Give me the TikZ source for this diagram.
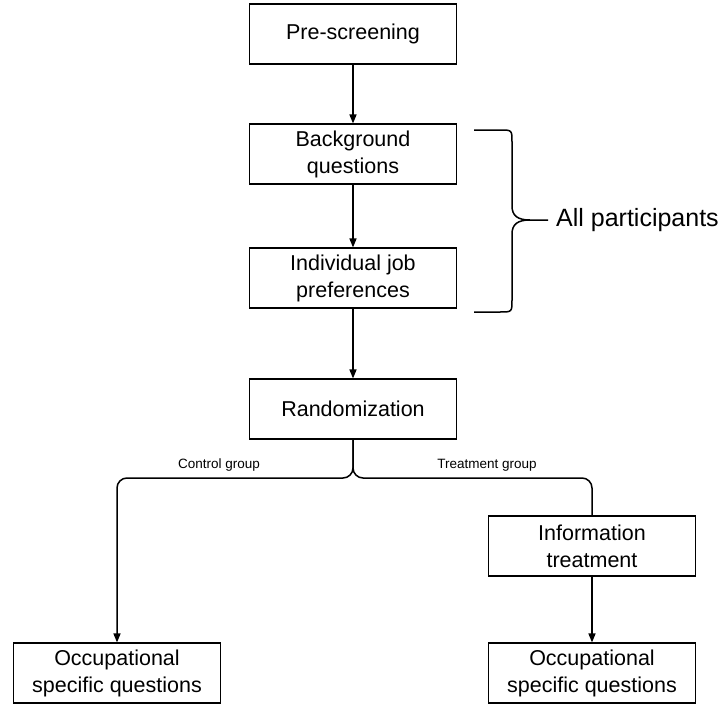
\documentclass[tikz,border=0pt]{standalone}
\usepackage{fontspec}
\setmainfont{Liberation Sans}
\usetikzlibrary{arrows.meta}
\tikzset{
  stepbox/.style={draw, line width=1.1pt, minimum width=207pt, minimum height=60pt,
    inner sep=0pt, align=center, font=\fontsize{21.5}{27}\selectfont},
  conn/.style={line width=1.5pt},
  arr/.style={conn, -{Stealth[length=9pt,width=7pt,inset=0pt]}},
  grouplabel/.style={inner sep=0pt, font=\fontsize{13.5}{16}\selectfont},
}
\begin{document}
\begin{tikzpicture}[x=1pt, y=-1pt]
            \useasboundingbox (0,0) rectangle (721,704);
            % main column
            \node[stepbox](pre) at (353,34){Pre-screening};
            \node[stepbox](bg) at (353,154){Background\\questions};
            \node[stepbox](indiv) at (353,278){Individual job\\preferences};
            \node[stepbox](rand) at (353,409){Randomization};
            % two arms
            \node[stepbox](info) at (592,546){Information\\treatment};
            \node[stepbox](occL) at (117,673){Occupational\\specific questions};
            \node[stepbox](occR) at (592,673){Occupational\\specific questions};
            \draw[arr] (pre) -- (bg);
            \draw[arr] (bg) -- (indiv);
            \draw[arr] (indiv) -- (rand);
            \coordinate(split) at (353,478);
            \draw[arr, rounded corners=10pt] (rand.south) -- (split) -| (occL.north);
            \draw[conn, rounded corners=10pt] (rand.south) -- (split) -| (info.north);
            \draw[arr] (info) -- (occR);
            \node[grouplabel](ctrl) at (219,465){Control group};
            \node[grouplabel](treat) at (487,465){Treatment group};
            % brace
            \coordinate(tip) at (548,220);
            \node[inner sep=0pt, anchor=west, font=\fontsize{25}{30}\selectfont](all) at (556,220){All participants};
            \draw[conn] (474,130) -- (500,130) .. controls (512,130) .. (512,142) -- (512,206)
              .. controls (512,216) and (518,220) .. (530,220) -- (tip);
            \draw[conn] (474,312) -- (500,312) .. controls (512,312) .. (512,300) -- (512,234)
              .. controls (512,224) and (518,220) .. (530,220);
        \end{tikzpicture}
\end{document}
